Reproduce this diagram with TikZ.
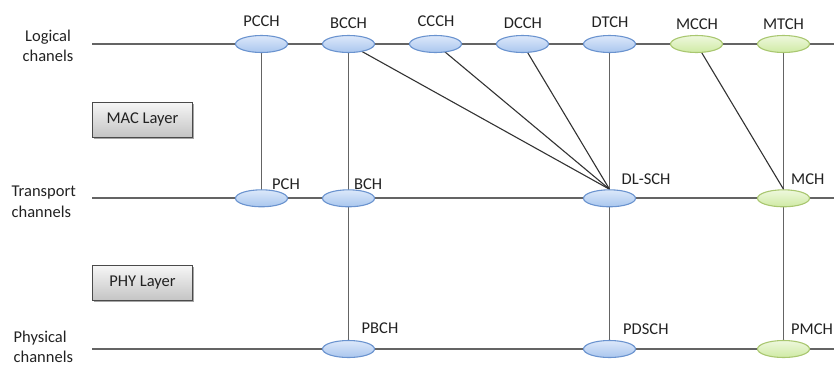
\documentclass[tikz,border=0pt]{standalone}
\usepackage{fontspec}
\setmainfont{Carlito}
\usetikzlibrary{shapes.geometric,backgrounds,shadows}

\definecolor{railgray}{HTML}{646464}
\definecolor{linkgray}{HTML}{333333}
\definecolor{txt}{HTML}{222222}
\definecolor{blueedge}{HTML}{6A93CF}
\definecolor{bluetop}{HTML}{DCE8FA}
\definecolor{bluebot}{HTML}{A9C6EE}
\definecolor{greenedge}{HTML}{A9C770}
\definecolor{greentop}{HTML}{EEF8DD}
\definecolor{greenbot}{HTML}{CFEAA4}
\definecolor{boxtop}{HTML}{F6F6F6}
\definecolor{boxbot}{HTML}{C4C4C4}
\definecolor{boxedge}{HTML}{4A4A4A}

\begin{document}
\begin{tikzpicture}[x=1pt,y=-1pt,
  font=\fontsize{16.5}{20.5}\selectfont, text=txt,
  chan/.style={ellipse, minimum width=52pt, minimum height=17pt, inner sep=0pt,
    draw=blueedge, line width=1.1pt, top color=bluetop, bottom color=bluebot},
  mchan/.style={chan, draw=greenedge, top color=greentop, bottom color=greenbot},
  toplbl/.style={inner sep=0pt, anchor=base},
  sidelbl/.style={inner sep=0pt, anchor=base west},
  rowlbl/.style={inner sep=0pt, anchor=base west, align=left},
  rail/.style={draw=railgray, line width=1.8pt},
  link/.style={draw=linkgray, line width=1.1pt},
  layerbox/.style={draw=boxedge, line width=0.9pt, top color=boxtop, bottom color=boxbot,
    minimum width=100pt, minimum height=35pt, inner sep=0pt,
    drop shadow={shadow xshift=1.2pt, shadow yshift=-1.5pt, opacity=0.35, fill=black}},
]
\useasboundingbox (0,0) rectangle (834,367);

% row captions (base anchor sits on the last line)
\node[inner sep=0pt, anchor=base, align=center] (lrow) at (48,61.7) {Logical\\chanels};
\node[rowlbl] (trow) at (11.5,217.2) {Transport\\channels};
\node[rowlbl] (prow) at (13.5,362.5) {Physical\\channels};

% layer boxes
\node[layerbox] (mac) at (142.5,119.5) {MAC Layer};
\node[layerbox] (phy) at (142.5,283) {PHY Layer};

% logical channels
\node[chan]  (pcch) at (261.5,44) {};
\node[chan]  (bcch) at (348.5,44) {};
\node[chan]  (ccch) at (435.5,44) {};
\node[chan]  (dcch) at (522.5,44) {};
\node[chan]  (dtch) at (609.5,44) {};
\node[mchan] (mcch) at (696.5,44) {};
\node[mchan] (mtch) at (783.5,44) {};

% transport channels
\node[chan]  (pch)   at (261.5,198.3) {};
\node[chan]  (bch)   at (348.5,198.3) {};
\node[chan]  (dlsch) at (609.5,198.3) {};
\node[mchan] (mch)   at (783.5,198.3) {};

% physical channels
\node[chan]  (pbch)  at (348.5,349) {};
\node[chan]  (pdsch) at (609.5,349) {};
\node[mchan] (pmch)  at (783.5,349) {};

% channel names
\node[toplbl] (tpcch) at (261.5,26.5) {PCCH};
\node[toplbl] (tbcch) at (348.5,28) {BCCH};
\node[toplbl] (tccch) at (436,26.7) {CCCH};
\node[toplbl] (tdcch) at (523,28) {DCCH};
\node[toplbl] (tdtch) at (610,27.7) {DTCH};
\node[toplbl] (tmcch) at (697,29) {MCCH};
\node[toplbl] (tmtch) at (783.5,29) {MTCH};

\node[sidelbl] (tpch)   at (272,189) {PCH};
\node[sidelbl] (tbch)   at (354,189) {BCH};
\node[sidelbl] (tdlsch) at (621.5,184) {DL-SCH};
\node[sidelbl] (tmch)   at (791,184) {MCH};

\node[sidelbl] (tpbch)  at (361.5,333) {PBCH};
\node[sidelbl] (tpdsch) at (623,334) {PDSCH};
\node[sidelbl] (tpmch)  at (791,334) {PMCH};

% rail ends
\coordinate (l0) at (92,44);    \coordinate (l1) at (834,44);
\coordinate (t0) at (92,198.3); \coordinate (t1) at (834,198.3);
\coordinate (p0) at (92,349);   \coordinate (p1) at (834,349);

\begin{scope}[on background layer]
  \draw[rail] (l0) -- (l1);
  \draw[rail] (t0) -- (t1);
  \draw[rail] (p0) -- (p1);
  % straight mappings
  \draw[rail] (pcch.center) -- (pch.center);
  \draw[rail] (bcch.center) -- (bch.center) -- (pbch.center);
  \draw[rail] (dtch.center) -- (dlsch.center) -- (pdsch.center);
  \draw[rail] (mtch.center) -- (mch.center) -- (pmch.center);
  % multiplexed mappings
  \draw[link] (bcch.center) -- (dlsch.north);
  \draw[link] (ccch.center) -- (dlsch.north);
  \draw[link] (dcch.center) -- (dlsch.north);
  \draw[link] (mcch.center) -- (mch.north);
\end{scope}
\end{tikzpicture}
\end{document}
